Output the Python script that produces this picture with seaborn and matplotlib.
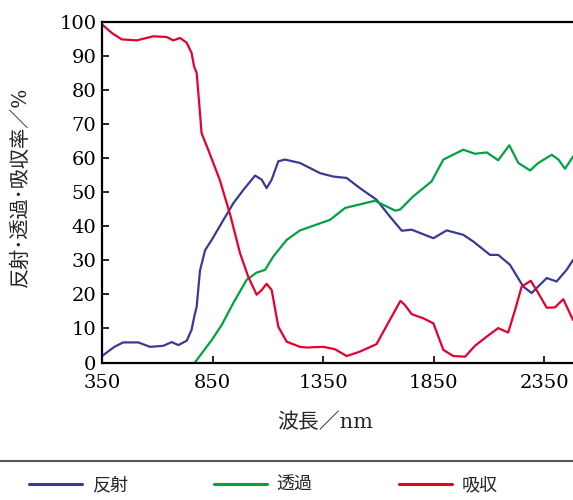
import numpy as np
import pandas as pd
import matplotlib
matplotlib.use("Agg")
import matplotlib.pyplot as plt
from matplotlib.lines import Line2D
import seaborn as sns

# ---- data ----
refl_x = [350, 406, 446, 514, 567, 627, 665, 695, 733, 755, 767, 778, 793, 816, 846, 891, 944, 989,
          1042, 1072, 1094, 1117, 1147, 1177, 1245, 1336, 1396, 1456, 1516, 1591, 1651, 1705, 1750,
          1848, 1908, 1983, 2029, 2104, 2141, 2194, 2254, 2292, 2360, 2405, 2450, 2479]
refl_y = [1.9, 4.6, 5.9, 5.9, 4.6, 4.9, 6.0, 5.1, 6.4, 9.6, 13.5, 16.4, 27, 33, 36, 41, 46.8, 50.7,
          54.9, 53.7, 51.2, 53.7, 59.1, 59.6, 58.6, 55.6, 54.6, 54.2, 51.2, 47.8, 42.9, 38.7, 39,
          36.5, 38.8, 37.5, 35.5, 31.6, 31.6, 28.7, 22.3, 20.4, 24.8, 23.8, 27.2, 30.1]

trans_x = [770, 846, 891, 943, 1004, 1049, 1087, 1124, 1155, 1185, 1245, 1381, 1449, 1584, 1675,
           1697, 1757, 1840, 1893, 1983, 2036, 2089, 2141, 2191, 2232, 2285, 2322, 2383, 2413, 2443, 2479]
trans_y = [0, 6.6, 11, 17.4, 24.3, 26.4, 27.2, 31.1, 33.6, 36, 38.8, 41.9, 45.4, 47.5, 44.6,
           44.9, 48.8, 53.2, 59.6, 62.5, 61.3, 61.7, 59.4, 63.8, 58.6, 56.4, 58.6, 61, 59.6, 56.9, 60.5]

abs_x = [350, 394, 439, 507, 582, 642, 672, 703, 733, 755, 766, 778, 788, 800, 830, 883, 929, 974,
         1011, 1049, 1072, 1094, 1117, 1147, 1185, 1245, 1275, 1350, 1403, 1456, 1516, 1591, 1651,
         1699, 1719, 1750, 1802, 1848, 1893, 1938, 1991, 2036, 2089, 2141, 2186, 2217, 2247, 2288,
         2322, 2360, 2398, 2435, 2479]
abs_y = [99.3, 96.8, 94.9, 94.6, 95.8, 95.6, 94.6, 95.3, 93.9, 90.9, 87, 85, 77.2, 67.4, 62.5, 53.5, 43.5, 32.1,
         25.2, 19.9, 21.3, 23.1, 21.3, 10.5, 6.1, 4.6, 4.4, 4.6, 3.9, 1.9, 3.2, 5.4, 12.5,
         18.1, 16.9, 14.2, 13, 11.5, 3.7, 1.9, 1.7, 4.9, 7.6, 10.1, 8.8, 15.4, 22.3, 24,
         20.4, 16.1, 16.2, 18.6, 12.5]

labels = ["反射", "透過", "吸収"]
colors = ["#3a3a96", "#00a33f", "#e6002d"]
x_ticks = [350, 850, 1350, 1850, 2350]
y_ticks = list(range(0, 101, 10))

sns.set_theme(style="ticks")
plt.rcParams["font.family"] = ["DejaVu Serif", "Noto Sans CJK JP", "DejaVu Sans"]

fig = plt.figure(figsize=(5.73, 5.0), dpi=100)
ax = fig.add_axes([0.178, 0.275, 0.822, 0.681])

frames = []
for xs, ys, lab in zip([refl_x, trans_x, abs_x], [refl_y, trans_y, abs_y], labels):
    frames.append(pd.DataFrame({"wl": xs, "val": ys, "kind": lab}))
df = pd.concat(frames, ignore_index=True)

sns.lineplot(data=df, x="wl", y="val", hue="kind", hue_order=labels,
             palette=colors, linewidth=1.6, ax=ax, legend=False, sort=False)

ax.set_xlim(350, 2479)
ax.set_ylim(0, 100)
ax.set_xticks(x_ticks)
ax.set_yticks(y_ticks)
ax.tick_params(direction="in", length=5, width=1.2, labelsize=14, colors="black")
ax.tick_params(axis="x", pad=8)
ax.tick_params(axis="y", pad=4)
for s in ["top", "left", "bottom"]:
    ax.spines[s].set_linewidth(1.6)
    ax.spines[s].set_color("black")
ax.spines["right"].set_visible(False)

ax.set_xlabel("波長／nm", fontsize=15)
ax.set_ylabel("反射･透過･吸収率／%", fontsize=14.5)
ax.xaxis.set_label_coords(0.473, -0.175)
ax.yaxis.set_label_coords(-0.174, 0.515)
ax.xaxis.label.set_verticalalignment("center")
ax.yaxis.label.set_verticalalignment("center")

# separator line and legend
fig.add_artist(Line2D([0, 1], [0.078, 0.078], transform=fig.transFigure, color="#555555", lw=1.5))
handles = [Line2D([], [], color=c, lw=2.2) for c in colors]
fig.legend(handles, labels, loc="center", bbox_to_anchor=(0.46, 0.03), ncol=3, frameon=False,
           fontsize=13, handlelength=2.9, handletextpad=0.55, columnspacing=4.8)

fig.savefig("out.png", dpi=100)
